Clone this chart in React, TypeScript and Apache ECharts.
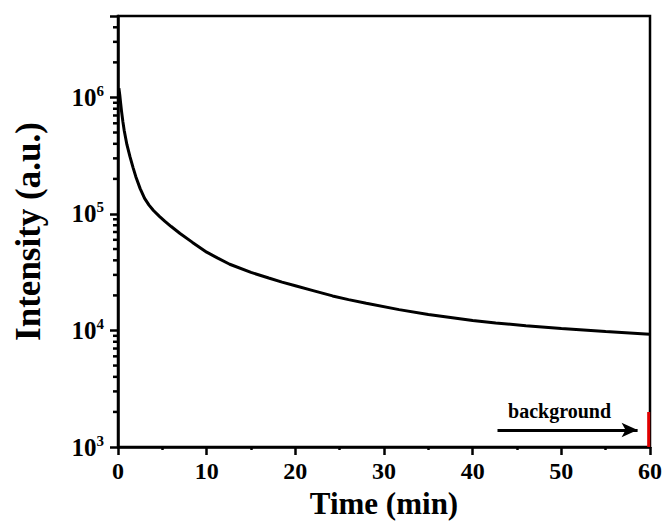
import React, { useEffect, useRef } from "react";
import * as echarts from "echarts";

// Time (min) and intensity (a.u.)
const timeMin = [0.1, 0.2, 0.3, 0.4, 0.55, 0.7, 1, 1.35, 1.7, 2, 2.5, 3, 3.5, 4, 4.7, 5.3, 6, 7, 8.4, 10, 11.2, 12.6, 15, 17, 18.5, 20, 22, 24.2, 26, 28, 31.7, 35, 37.3, 40, 42.6, 46, 50, 55, 59.5, 60];
const intensity = [1.2e6, 1.05e6, 8.9e5, 7.6e5, 6.2e5, 5.2e5, 3.95e5, 3.1e5, 2.5e5, 2.1e5, 1.65e5, 1.36e5, 1.19e5, 1.07e5, 9.5e4, 8.65e4, 7.8e4, 6.8e4, 5.7e4, 4.7e4, 4.2e4, 3.7e4, 3.15e4, 2.82e4, 2.6e4, 2.42e4, 2.2e4, 1.98e4, 1.84e4, 1.71e4, 1.51e4, 1.37e4, 1.3e4, 1.22e4, 1.16e4, 1.1e4, 1.04e4, 9.8e3, 9.35e3, 9.3e3];

// background marker (red) near t = 60
const backgroundTime = [59.85, 59.85];
const backgroundValue = [1000, 2000];

// minor tick positions on the log axis
const minorTickValues = [
  2e3, 3e3, 4e3, 5e3, 6e3, 7e3, 8e3, 9e3,
  2e4, 3e4, 4e4, 5e4, 6e4, 7e4, 8e4, 9e4,
  2e5, 3e5, 4e5, 5e5, 6e5, 7e5, 8e5, 9e5,
  2e6, 3e6, 4e6,
];

const FONT = "'Liberation Serif', 'Times New Roman', serif";

export default function App() {
  const ref = useRef<HTMLDivElement>(null);
  useEffect(() => {
    document.body.style.margin = "0";
    if (!ref.current) return;
    const chart = echarts.init(ref.current, undefined, { renderer: "svg" });
    const curve = timeMin.map((t, i) => [t, intensity[i]]);
    const bg = backgroundTime.map((t, i) => [t, backgroundValue[i]]);
    const minor = minorTickValues.map((v) => [0, v]);
    chart.setOption({
      animation: false,
      backgroundColor: "#fff",
      grid: {
        left: 118,
        right: 20,
        top: 16,
        bottom: 78,
        show: true,
        borderColor: "#000",
        borderWidth: 2.5,
        backgroundColor: "transparent",
      },
      xAxis: {
        type: "value",
        min: 0,
        max: 60,
        interval: 10,
        name: "Time (min)",
        nameLocation: "middle",
        nameGap: 38,
        nameTextStyle: { fontFamily: FONT, fontWeight: "bold", fontSize: 31, color: "#000" },
        axisLine: { show: true, lineStyle: { color: "#000", width: 2.5 } },
        axisTick: { show: true, inside: false, length: 8, lineStyle: { color: "#000", width: 2.5 } },
        minorTick: { show: true, splitNumber: 2, length: 3, lineStyle: { color: "#000", width: 2.5 } },
        splitLine: { show: false },
        axisLabel: { fontFamily: FONT, fontWeight: "bold", fontSize: 24, color: "#000", margin: 12 },
      },
      yAxis: {
        type: "log",
        logBase: 10,
        min: 1000,
        max: 5e6,
        name: "Intensity (a.u.)",
        nameLocation: "middle",
        nameGap: 72,
        nameTextStyle: { fontFamily: FONT, fontWeight: "bold", fontSize: 35, color: "#000" },
        axisLine: { show: true, lineStyle: { color: "#000", width: 2.5 } },
        axisTick: { show: true, inside: false, length: 8, lineStyle: { color: "#000", width: 2.5 } },
        splitLine: { show: false },
        axisLabel: {
          margin: 14,
          formatter: (v: number) => {
            const l = Math.log10(v);
            const r = Math.round(l);
            if (Math.abs(l - r) > 0.01) return "";
            return `{b|10}{s|${r}}`;
          },
          rich: {
            b: { fontFamily: FONT, fontWeight: "bold", fontSize: 25, color: "#000", lineHeight: 28 },
            s: { fontFamily: FONT, fontWeight: "bold", fontSize: 15, color: "#000", verticalAlign: "top" },
          },
        },
      },
      series: [
        {
          type: "line",
          data: curve,
          showSymbol: false,
          smooth: false,
          lineStyle: { color: "#000", width: 3 },
          itemStyle: { color: "#000" },
          z: 3,
          markLine: {
            silent: true,
            symbol: ["none", "arrow"],
            symbolSize: [11, 16],
            label: { show: false },
            lineStyle: { color: "#000", width: 3, type: "solid" },
            data: [[{ coord: [42.8, 1400] }, { coord: [58.6, 1400] }]],
          },
          markPoint: {
            silent: true,
            symbol: "circle",
            symbolSize: 0,
            label: {
              show: true,
              position: "inside",
              formatter: "background",
              fontFamily: FONT,
              fontWeight: "bold",
              fontSize: 20,
              color: "#000",
            },
            data: [{ coord: [49.8, 2050] }],
          },
        },
        {
          type: "line",
          data: bg,
          showSymbol: false,
          lineStyle: { color: "#e00000", width: 3 },
          itemStyle: { color: "#e00000" },
          z: 4,
        },
        {
          type: "custom",
          data: minor,
          clip: false,
          silent: true,
          z: 5,
          renderItem: (_params: any, api: any) => {
            const p = api.coord([api.value(0), api.value(1)]);
            return {
              type: "line",
              shape: { x1: p[0] - 5, y1: p[1], x2: p[0], y2: p[1] },
              style: { stroke: "#000", lineWidth: 2.5 },
            };
          },
        },
      ],
    });
    return () => chart.dispose();
  }, []);
  return <div ref={ref} style={{ width: 670, height: 525 }} />;
}
